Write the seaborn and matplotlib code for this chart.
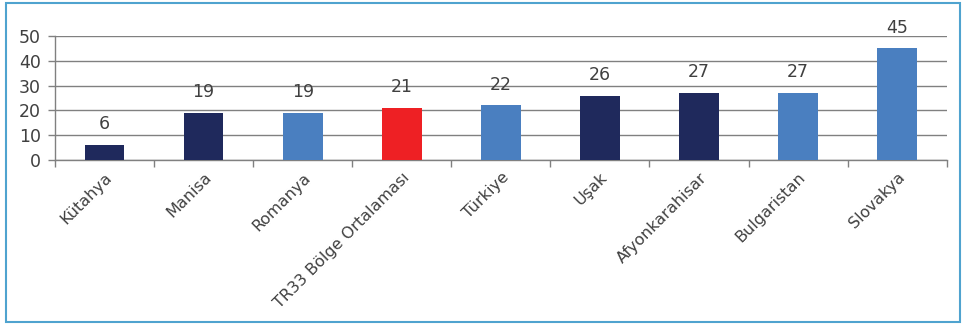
import matplotlib.pyplot as plt
import matplotlib.patches as mpatches
import seaborn as sns
import pandas as pd

categories = ['Kütahya', 'Manisa', 'Romanya', 'TR33 Bölge Ortalaması', 'Türkiye',
              'Uşak', 'Afyonkarahisar', 'Bulgaristan', 'Slovakya']
values = [6, 19, 19, 21, 22, 26, 27, 27, 45]
colors = ['#1F295C', '#1F295C', '#4A7FC0', '#EE2024', '#4A7FC0',
          '#1F295C', '#1F295C', '#4A7FC0', '#4A7FC0']

df = pd.DataFrame({'cat': categories, 'val': values})

sns.set_style('white')
plt.rcParams['font.family'] = ['DejaVu Sans']
txt = '#404040'
grid = '#808080'

fig = plt.figure(figsize=(9.63, 3.24), dpi=100)
ax = fig.add_axes([0.0571, 0.506, 0.926, 0.383])

sns.barplot(data=df, x='cat', y='val', hue='cat', palette=colors, legend=False,
            width=0.4, ax=ax, zorder=3, edgecolor='none', saturation=1)

ax.set_ylim(0, 50)
ax.set_xlim(-0.5, len(categories) - 0.5)
ax.set_yticks([0, 10, 20, 30, 40, 50])
ax.yaxis.grid(True, color=grid, linewidth=1.0, zorder=0)
ax.set_axisbelow(True)
for s in ['top', 'right']:
    ax.spines[s].set_visible(False)
for s in ['left', 'bottom']:
    ax.spines[s].set_color(grid)
    ax.spines[s].set_linewidth(1.0)

ax.set_xlabel('')
ax.set_ylabel('')
ax.tick_params(axis='y', length=5, width=1.0, color=grid, labelsize=12.5,
               labelcolor=txt, pad=5, left=True)
ax.set_xticks(range(len(categories)))
ax.set_xticklabels(categories, rotation=45, ha='right', rotation_mode='anchor',
                   fontsize=11.5, color=txt)
ax.tick_params(axis='x', length=0, pad=7)
ax.set_xticks([i + 0.5 for i in range(-1, len(categories))], minor=True)
ax.tick_params(axis='x', which='minor', length=5, width=1.0, color=grid, bottom=True)

for i, v in enumerate(values):
    ax.annotate(str(v), (i, v), xytext=(0, 15), textcoords='offset points',
                ha='center', va='center', fontsize=12.5, color=txt)

frame = mpatches.Rectangle((0.006, 0.006), 0.991, 0.985, transform=fig.transFigure,
                           fill=False, edgecolor='#4FA3CF', linewidth=1.5)
fig.patches.append(frame)

fig.savefig('out.png', dpi=100)
